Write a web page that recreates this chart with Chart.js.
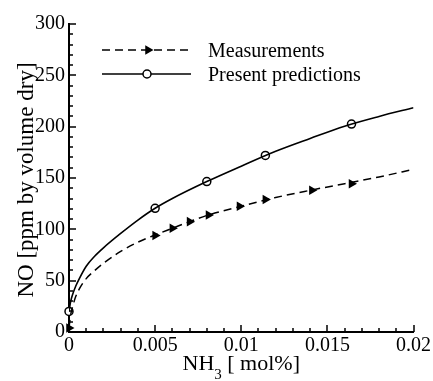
<!DOCTYPE html>
<html>
<head>
<meta charset="utf-8">
<script src="https://cdn.jsdelivr.net/npm/chart.js@4.4.1/dist/chart.umd.min.js"></script>
<style>
  html, body { margin: 0; padding: 0; background: #fff; }
  #wrap { width: 433px; height: 381px; }
</style>
</head>
<body>
<div id="wrap"><canvas id="noChart"></canvas></div>
<script>
// predicted NO curve (solid line)
var predX = [0, 0.0001, 0.0002, 0.0004, 0.0006, 0.001, 0.0015, 0.002, 0.003, 0.004, 0.005,
             0.006, 0.008, 0.01, 0.012, 0.014, 0.016, 0.018, 0.02];
var predY = [20, 30, 36, 45, 52, 64, 74, 82, 96, 109, 120.5,
             130, 146.5, 161.5, 176, 188.5, 200.5, 210, 218.5];
// circles on the predicted curve
var predMarkX = [0, 0.005, 0.008, 0.0114, 0.0164];
var predMarkY = [20, 120.5, 146.5, 172, 202.5];

// fitted curve through the measurements (dashed line)
var measLineX = [0, 0.0001, 0.0002, 0.0004, 0.0006, 0.001, 0.0015, 0.002, 0.003, 0.004, 0.005,
                 0.006, 0.007, 0.008, 0.01, 0.012, 0.014, 0.016, 0.018, 0.02];
var measLineY = [4, 17, 24, 35, 42, 52, 60, 67, 78.5, 87.5, 94.5,
                 101, 107.5, 113.5, 122.5, 131, 138, 144.5, 151, 158.5];
// measured points (triangles)
var measX = [0, 0.005, 0.006, 0.007, 0.0081, 0.0099, 0.0114, 0.0141, 0.0164];
var measY = [4, 94, 101, 107.5, 114, 122.5, 129, 138, 144.5];

var xTicks = [0, 0.005, 0.01, 0.015, 0.02];
var xTickLabels = ['0', '0.005', '0.01', '0.015', '0.02'];
var yTicks = [0, 50, 100, 150, 200, 250, 300];
var yTickLabels = ['0', '50', '100', '150', '200', '250', '300'];
var xMinorStep = 0.001;
var yMinorStep = 10;

var serif = '"Liberation Serif"';
Chart.defaults.font.family = serif;
Chart.defaults.font.size = 20;
Chart.defaults.color = '#000';

function toPoints(xs, ys) {
  var pts = [];
  for (var i = 0; i < xs.length; i++) {
    pts.push({ x: xs[i], y: ys[i] });
  }
  return pts;
}

function drawTriangle(ctx, x, y, r) {
  // pointing right
  ctx.beginPath();
  ctx.moveTo(x + r, y);
  ctx.lineTo(x - r / 2, y - r * 0.866);
  ctx.lineTo(x - r / 2, y + r * 0.866);
  ctx.closePath();
  ctx.fill();
}

// tick marks pointing into the plot
var tickPlugin = {
  id: 'innerTicks',
  afterDraw: function (chart) {
    var ctx = chart.ctx;
    var xs = chart.scales.x, ys = chart.scales.y;
    var a = chart.chartArea;
    var k, px, py, len;
    ctx.save();
    ctx.strokeStyle = '#000';
    ctx.lineWidth = 1.5;
    ctx.beginPath();
    for (k = 0; k <= 20; k++) {
      px = Math.round(xs.getPixelForValue(k * xMinorStep));
      len = (k % 5 === 0) ? 7 : 4;
      ctx.moveTo(px, a.bottom);
      ctx.lineTo(px, a.bottom - len);
    }
    for (k = 0; k <= 30; k++) {
      py = Math.round(ys.getPixelForValue(k * yMinorStep));
      len = (k % 5 === 0) ? 7 : 4;
      ctx.moveTo(a.left, py);
      ctx.lineTo(a.left + len, py);
    }
    ctx.stroke();
    ctx.restore();
  }
};

// axis titles and legend
var labelPlugin = {
  id: 'labels',
  afterDraw: function (chart) {
    var ctx = chart.ctx;
    var a = chart.chartArea;
    ctx.save();
    ctx.fillStyle = '#000';
    ctx.strokeStyle = '#000';

    // y title
    ctx.save();
    ctx.translate(33, (a.top + a.bottom) / 2 + 2);
    ctx.rotate(-Math.PI / 2);
    ctx.font = '23px ' + serif;
    ctx.textAlign = 'center';
    ctx.textBaseline = 'alphabetic';
    ctx.fillText('NO [ppm by volume dry]', 0, 0);
    ctx.restore();

    // x title with subscript
    var big = '22px ' + serif, small = '15px ' + serif;
    ctx.textBaseline = 'alphabetic';
    ctx.textAlign = 'left';
    ctx.font = big;
    var w1 = ctx.measureText('NH').width;
    var w3 = ctx.measureText(' [ mol%]').width;
    ctx.font = small;
    var w2 = ctx.measureText('3').width;
    var x0 = (a.left + a.right) / 2 - (w1 + w2 + w3) / 2;
    var base = 370;
    ctx.font = big;
    ctx.fillText('NH', x0, base);
    ctx.font = small;
    ctx.fillText('3', x0 + w1, base + 9);
    ctx.font = big;
    ctx.fillText(' [ mol%]', x0 + w1 + w2, base);

    // legend
    ctx.lineWidth = 1.5;
    ctx.beginPath();
    ctx.setLineDash([8, 5]);
    ctx.moveTo(102, 50);
    ctx.lineTo(191, 50);
    ctx.stroke();
    ctx.setLineDash([]);
    drawTriangle(ctx, 148, 50, 5.5);
    ctx.beginPath();
    ctx.moveTo(102, 74);
    ctx.lineTo(191, 74);
    ctx.stroke();
    ctx.beginPath();
    ctx.fillStyle = '#fff';
    ctx.arc(147, 74, 4, 0, Math.PI * 2);
    ctx.fill();
    ctx.stroke();
    ctx.fillStyle = '#000';
    ctx.font = '20px ' + serif;
    ctx.fillText('Measurements', 208, 57);
    ctx.fillText('Present predictions', 208, 81);
    ctx.restore();
  }
};

var ctx = document.getElementById('noChart').getContext('2d');
var chart = new Chart(ctx, {
  type: 'scatter',
  data: {
    datasets: [
      {
        label: 'Measurements fit',
        data: toPoints(measLineX, measLineY),
        showLine: true,
        pointRadius: 0,
        borderColor: '#000',
        borderWidth: 1.5,
        borderDash: [8, 5],
        cubicInterpolationMode: 'monotone'
      },
      {
        label: 'Present predictions curve',
        data: toPoints(predX, predY),
        showLine: true,
        pointRadius: 0,
        borderColor: '#000',
        borderWidth: 1.6,
        cubicInterpolationMode: 'monotone'
      },
      {
        label: 'Measurements',
        data: toPoints(measX, measY),
        pointStyle: 'triangle',
        rotation: 90,
        pointRadius: 5.5,
        backgroundColor: '#000',
        borderColor: '#000',
        borderWidth: 0,
        clip: false
      },
      {
        label: 'Present predictions',
        data: toPoints(predMarkX, predMarkY),
        pointStyle: 'circle',
        pointRadius: 4,
        backgroundColor: '#fff',
        borderColor: '#000',
        borderWidth: 1.5,
        clip: false
      }
    ]
  },
  options: {
    responsive: true,
    maintainAspectRatio: false,
    animation: false,
    layout: { padding: { top: 24, right: 19, left: 0, bottom: 0 } },
    plugins: {
      legend: { display: false },
      tooltip: { enabled: false }
    },
    scales: {
      x: {
        type: 'linear',
        min: 0,
        max: 0.02,
        afterBuildTicks: function (scale) {
          scale.ticks = xTicks.map(function (v) { return { value: v }; });
        },
        afterFit: function (scale) { scale.height = 49; },
        grid: { display: false, drawTicks: false },
        border: { display: true, color: '#000', width: 2 },
        ticks: {
          padding: 2,
          maxRotation: 0,
          callback: function (value, index) { return xTickLabels[index]; }
        }
      },
      y: {
        type: 'linear',
        min: 0,
        max: 300,
        afterBuildTicks: function (scale) {
          scale.ticks = yTicks.map(function (v) { return { value: v }; });
        },
        afterFit: function (scale) { scale.width = 69; },
        grid: { display: false, drawTicks: false },
        border: { display: true, color: '#000', width: 2 },
        ticks: {
          padding: 4,
          callback: function (value, index) { return yTickLabels[index]; }
        }
      }
    }
  },
  plugins: [tickPlugin, labelPlugin]
});
</script>
</body>
</html>
